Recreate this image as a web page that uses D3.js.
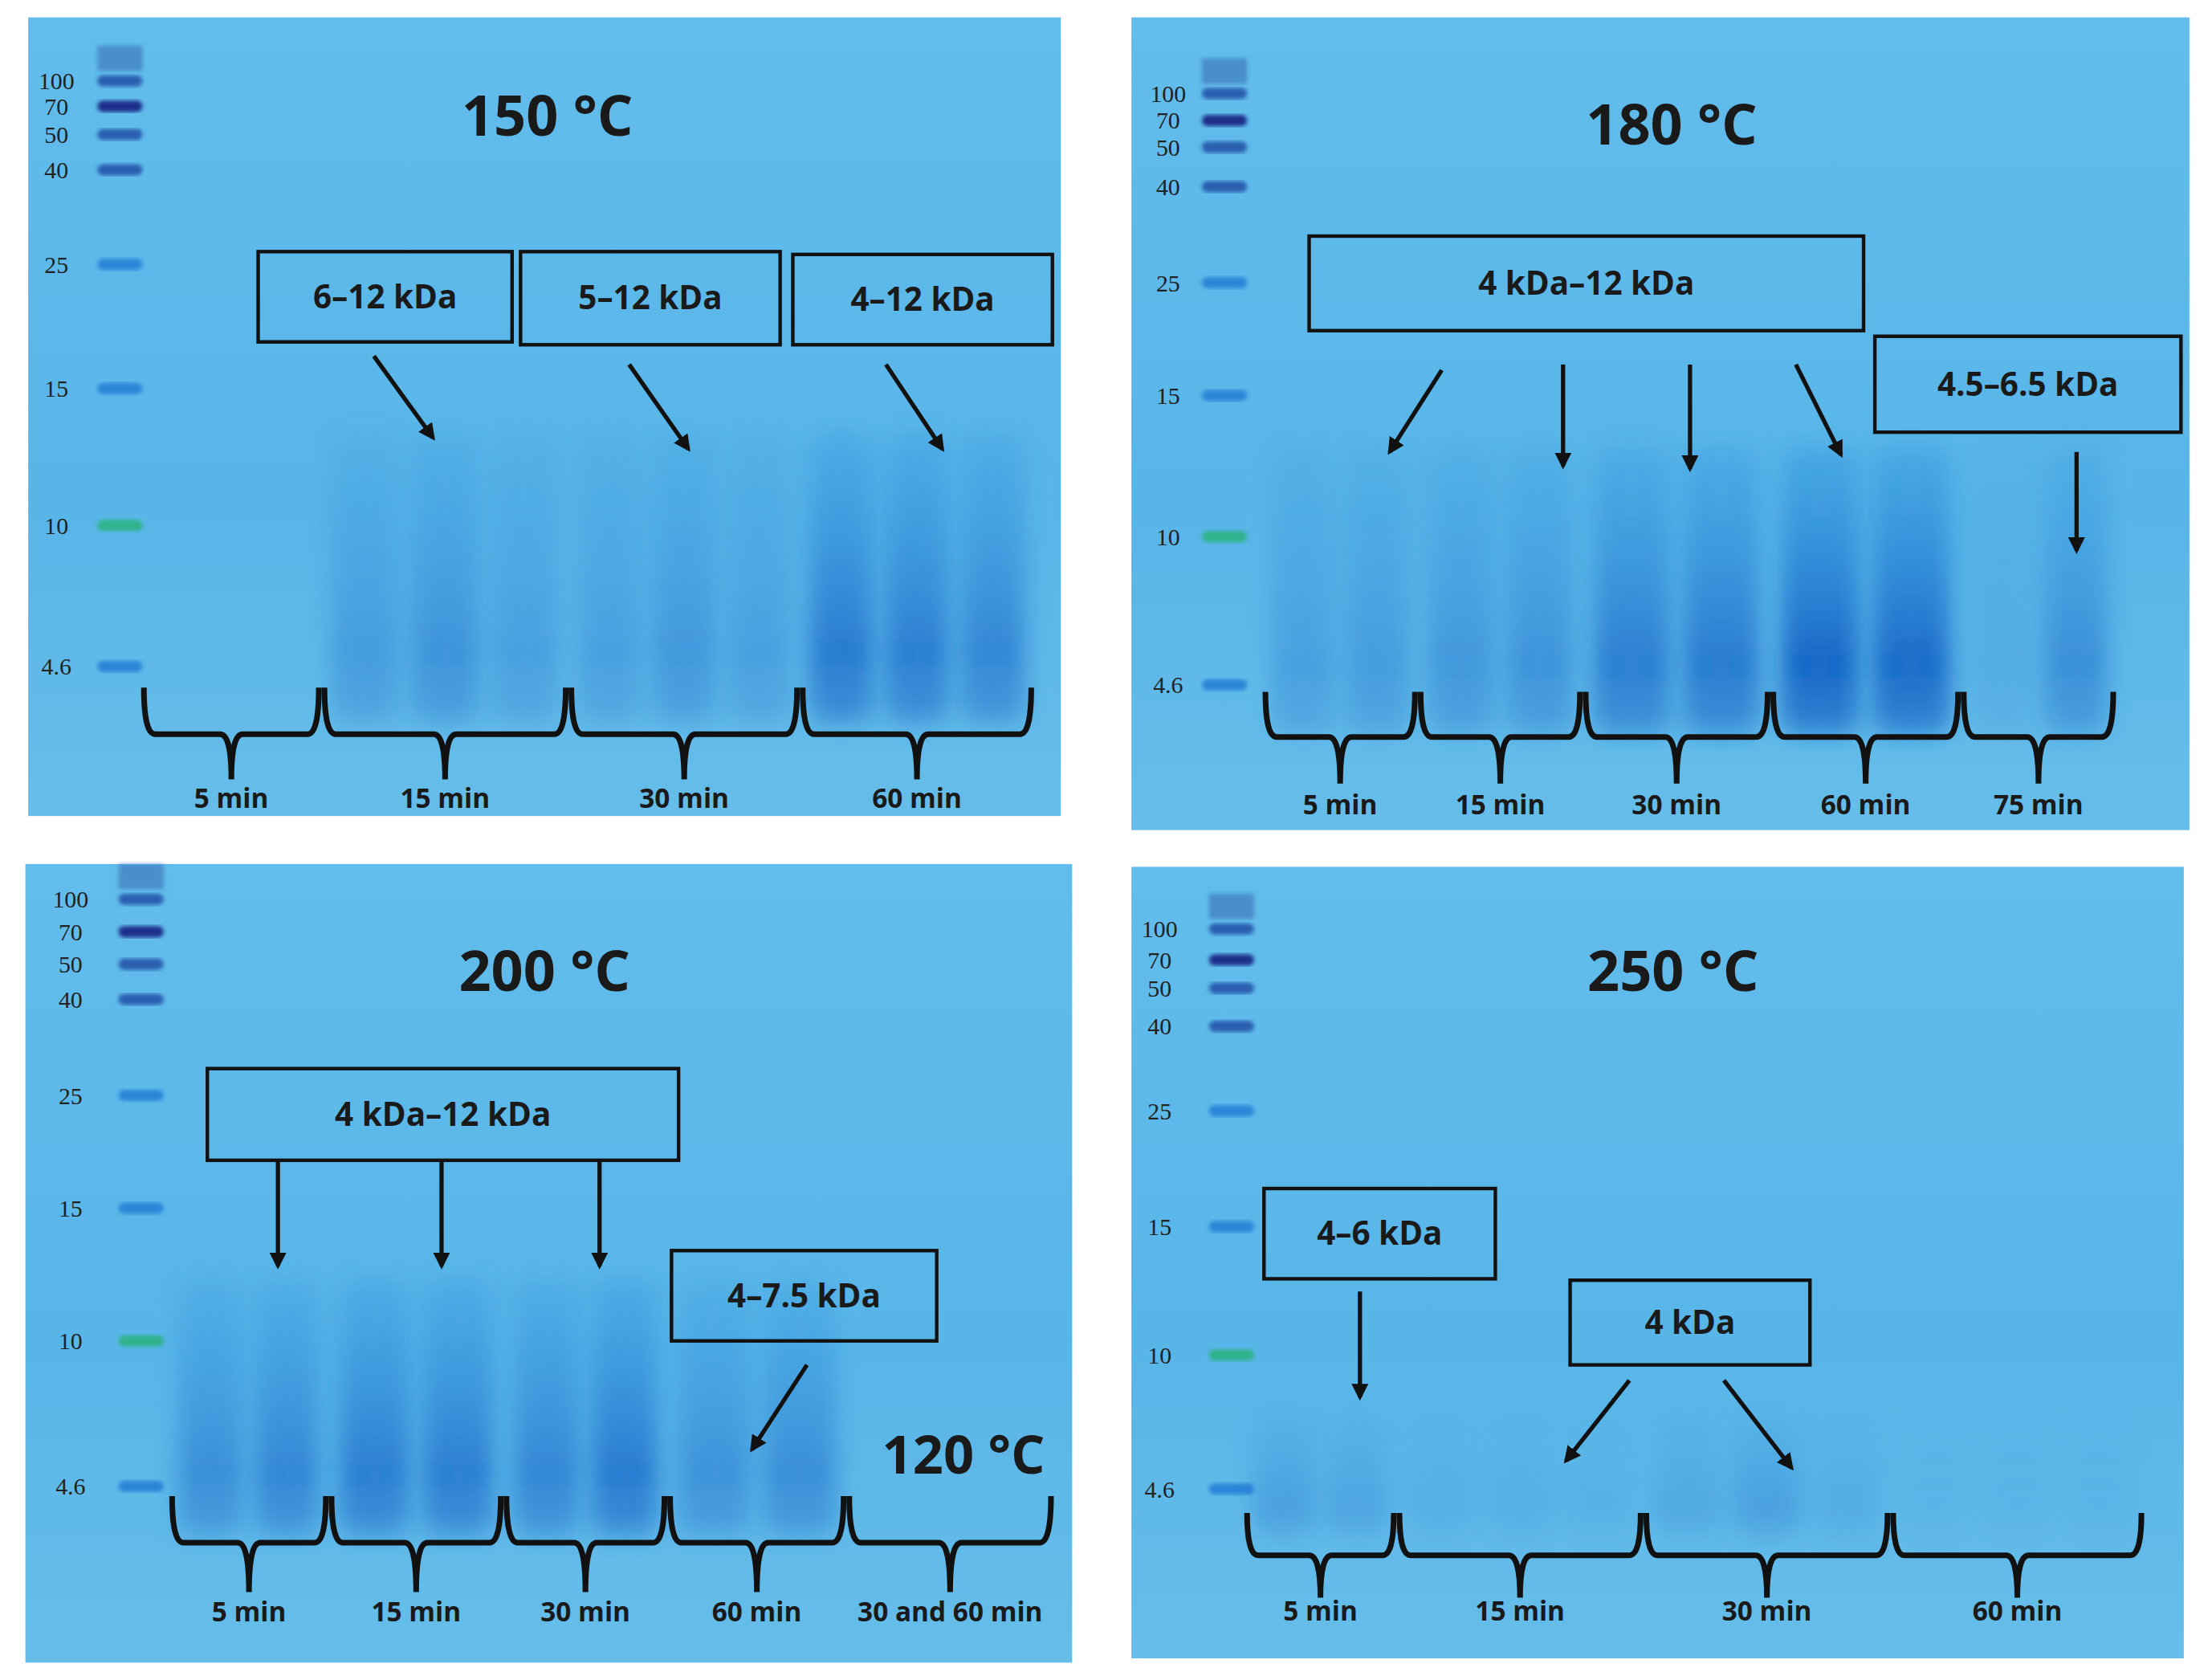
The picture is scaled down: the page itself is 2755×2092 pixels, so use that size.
<!DOCTYPE html>
<html><head><meta charset="utf-8">
<script src="https://cdn.jsdelivr.net/npm/d3@7"></script>
<style>body{margin:0;background:#fff}</style></head>
<body><svg id="c"></svg>
<script>
// ---------- data ----------
const titles = ["150 °C","180 °C","200 °C","250 °C"];
const markerLabels = ["100","70","50","40","25","15","10","4.6"];
const timeLabels = [
  ["5 min","15 min","30 min","60 min"],
  ["5 min","15 min","30 min","60 min","75 min"],
  ["5 min","15 min","30 min","60 min","30 and 60 min"],
  ["5 min","15 min","30 min","60 min"]];
const lanesPerGroup = [[2,3,3,3],[2,2,2,2,2],[2,2,2,2,2],[2,3,3,3]];
const laneIntensity = [
  [0,0, .35,.45,.3, .3,.4,.3, .75,.7,.6],
  [.3,.35, .4,.45, .7,.75, 1,.95, .15,.5],
  [.5,.6, .7,.7, .6,.75, .45,.5, 0,0],
  [.3,.25, .12,.12,.1, .2,.3,.15, .06,.06,.06]];
const boxLabels = [["6–12 kDa","5–12 kDa","4–12 kDa"],["4 kDa–12 kDa","4.5–6.5 kDa"],["4 kDa–12 kDa","4–7.5 kDa"],["4–6 kDa","4 kDa"]];
const extraLabels = [[],[],["120 °C"],[]];

// ---------- layout ----------
const layout = [
 {rect:[20,12,732,566], title:[388,82], ladX:85, labX:40, mY:[57,75,95,120,187,275,372,472],
  groups:[100,228,403,567,733], laneY:[305,512], brace:[487,520,552], timeY:572,
  boxes:[[183,178,180,64],[369,178,184,66],[562,180,184,64]],
  arrows:[[265,252,307,310],[446,258,488,318],[628,258,668,318]], extra:[]},
 {rect:[802,12,750,576], title:[1185,88], ladX:868, labX:828, mY:[66,85,104,132,200,280,380,485],
  groups:[895,1005,1122,1255,1390,1500], laneY:[315,520], brace:[490,522,555], timeY:577,
  boxes:[[928,167,393,67],[1329,238,217,68]],
  arrows:[[1022,262,985,320],[1108,258,1108,330],[1198,258,1198,332],[1273,258,1305,322],[1472,320,1472,390]], extra:[]},
 {rect:[18,612,742,566], title:[386,688], ladX:100, labX:50, mY:[637,660,683,708,776,856,950,1053],
  groups:[120,233,357,473,600,747], laneY:[905,1088], brace:[1060,1093,1128], timeY:1149,
  boxes:[[147,757,334,65],[476,886,188,64]],
  arrows:[[197,822,197,897],[313,822,313,897],[425,822,425,897],[572,967,533,1027]], extra:[[683,1030]]},
 {rect:[802,614,746,561], title:[1186,688], ladX:873, labX:822, mY:[658,680,700,727,787,869,960,1055],
  groups:[882,990,1165,1340,1520], laneY:[1000,1088], brace:[1072,1102,1132], timeY:1148,
  boxes:[[896,842,164,64],[1113,907,170,60]],
  arrows:[[964,915,964,990],[1155,978,1110,1035],[1222,978,1270,1040]], extra:[]}
];

const svg = d3.select("#c").attr("width",2755).attr("height",2092).attr("viewBox","0 0 1568 1190");
const defs = svg.append("defs");
defs.append("filter").attr("id","blur").attr("x","-50%").attr("y","-20%").attr("width","200%").attr("height","140%")
  .append("feGaussianBlur").attr("stdDeviation",8);
defs.append("filter").attr("id","blur2").append("feGaussianBlur").attr("stdDeviation",1.5);
const bg = defs.append("linearGradient").attr("id","bg").attr("x1",0).attr("y1",0).attr("x2",0).attr("y2",1);
bg.append("stop").attr("offset","0").attr("stop-color","#62bdec");
bg.append("stop").attr("offset","0.6").attr("stop-color","#58b5e8");
bg.append("stop").attr("offset","1").attr("stop-color","#66bde9");
const lg = defs.append("linearGradient").attr("id","lane").attr("x1",0).attr("y1",0).attr("x2",0).attr("y2",1);
lg.append("stop").attr("offset","0").attr("stop-color","#2d92dc").attr("stop-opacity",0.35);
lg.append("stop").attr("offset","0.75").attr("stop-color","#1262c6").attr("stop-opacity",0.95);
lg.append("stop").attr("offset","1").attr("stop-color","#1a6cc8").attr("stop-opacity",0.7);
const ah = defs.append("marker").attr("id","ah").attr("viewBox","0 0 10 10").attr("refX",8).attr("refY",5)
  .attr("markerWidth",4).attr("markerHeight",4).attr("orient","auto");
ah.append("path").attr("d","M0,0 L10,5 L0,10 Z").attr("fill","#111");

const font = "'Open Sans', 'Liberation Sans', sans-serif";

layout.forEach((L,p)=>{
  const g = svg.append("g");
  const [rx,ry,rw,rh] = L.rect;
  g.append("rect").attr("x",rx).attr("y",ry).attr("width",rw).attr("height",rh).attr("fill","url(#bg)");
  const yv = d => L.mY[markerLabels.indexOf(d)];
  markerLabels.forEach((m,i)=>{
    const col = m==="10" ? "#2fb38a" : (i<4 ? (i===1?"#1f2f8a":"#2a5fb0") : "#2a86d8");
    g.append("rect").attr("x",L.ladX-16).attr("y",yv(m)-4).attr("width",32).attr("height",8).attr("rx",4)
      .attr("fill",col).attr("filter","url(#blur2)");
    g.append("text").attr("x",L.labX).attr("y",yv(m)+6).attr("text-anchor","middle")
      .attr("font-family","'Liberation Serif', serif").attr("font-size",17).attr("fill","#222").text(m);
  });
  g.append("rect").attr("x",L.ladX-16).attr("y",L.mY[0]-25).attr("width",32).attr("height",18).attr("fill","#3a70b8").attr("opacity",.6).attr("filter","url(#blur2)");
  // lanes & braces
  let idx=0;
  lanesPerGroup[p].forEach((n,k)=>{
    const x0=L.groups[k], x1=L.groups[k+1];
    const xb = d3.scaleBand().domain(d3.range(n)).range([x0,x1]).paddingInner(0.15).paddingOuter(0.12);
    for(let j=0;j<n;j++){
      const v = laneIntensity[p][idx++];
      if(v<=0) continue;
      g.append("rect").attr("x",xb(j)).attr("y",L.laneY[0]).attr("width",xb.bandwidth())
        .attr("height",L.laneY[1]-L.laneY[0]).attr("rx",12).attr("fill","url(#lane)").attr("opacity",v)
        .attr("filter","url(#blur)");
    }
  });
  lanesPerGroup[p].forEach((n,k)=>{
    const x0=L.groups[k]+2, x1=L.groups[k+1]-2;
    const cx=(x0+x1)/2, [t,m,b]=L.brace;
    g.append("path").attr("d",`M${x0},${t} Q${x0},${m} ${x0+8},${m} L${cx-8},${m} Q${cx},${m} ${cx},${b} Q${cx},${m} ${cx+8},${m} L${x1-8},${m} Q${x1},${m} ${x1},${t}`)
      .attr("fill","none").attr("stroke","#111").attr("stroke-width",4);
    g.append("text").attr("x",cx).attr("y",L.timeY).attr("text-anchor","middle").attr("font-family",font)
      .attr("font-weight","bold").attr("font-size",19).attr("fill","#1a1a1a").text(timeLabels[p][k]);
  });
  L.boxes.forEach((b,k)=>{
    g.append("rect").attr("x",b[0]).attr("y",b[1]).attr("width",b[2]).attr("height",b[3])
      .attr("fill","none").attr("stroke","#111").attr("stroke-width",2.5);
    g.append("text").attr("x",b[0]+b[2]/2).attr("y",b[1]+b[3]/2+8).attr("text-anchor","middle")
      .attr("font-family",font).attr("font-weight","bold").attr("font-size",23).attr("fill","#1a1a1a").text(boxLabels[p][k]);
  });
  L.arrows.forEach(a=>{
    g.append("line").attr("x1",a[0]).attr("y1",a[1]).attr("x2",a[2]).attr("y2",a[3])
      .attr("stroke","#111").attr("stroke-width",3).attr("marker-end","url(#ah)");
  });
  g.append("text").attr("x",L.title[0]).attr("y",L.title[1]+14).attr("text-anchor","middle").attr("font-family",font)
    .attr("font-weight","bold").attr("font-size",40).attr("fill","#1a1a1a").text(titles[p]);
  L.extra.forEach((e,k)=>{
    g.append("text").attr("x",e[0]).attr("y",e[1]+14).attr("text-anchor","middle").attr("font-family",font)
      .attr("font-weight","bold").attr("font-size",38).attr("fill","#1a1a1a").text(extraLabels[p][k]);
  });
});
</script></body></html>
